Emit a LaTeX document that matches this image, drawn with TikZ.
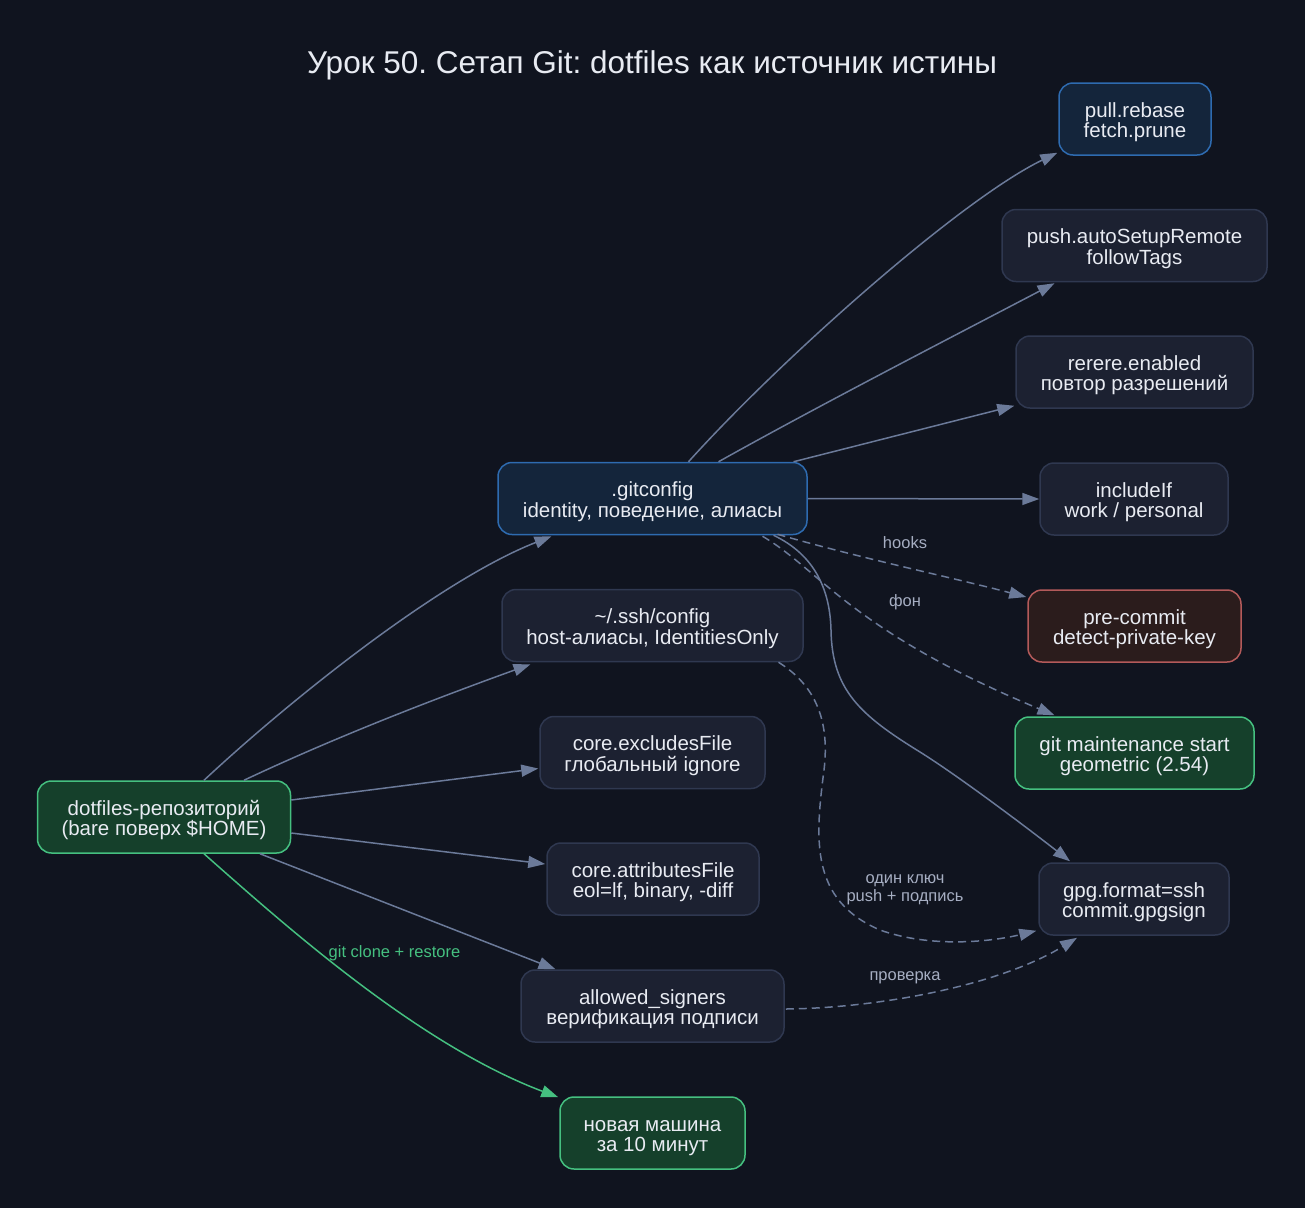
\documentclass[tikz,border=0pt]{standalone}
\usepackage{fontspec}
\setmainfont{Liberation Sans}
\usetikzlibrary{arrows.meta,calc}
\frenchspacing
\definecolor{bg}{HTML}{10141F}
\definecolor{nfill}{HTML}{1C2131}
\definecolor{nborder}{HTML}{2F3850}
\definecolor{bfill}{HTML}{14253B}
\definecolor{bborder}{HTML}{2E6BB0}
\definecolor{gfill}{HTML}{15402B}
\definecolor{gborder}{HTML}{45C080}
\definecolor{rfill}{HTML}{2B1C1C}
\definecolor{rborder}{HTML}{B45A5A}
\definecolor{edgec}{HTML}{6B7A99}
\definecolor{txt}{HTML}{E8EBF2}
\definecolor{lblc}{HTML}{A6AEC2}
\newcommand\mytopstrut{\rule{0pt}{22.7pt}}
\newcommand\mybotstrut{\rule[-6pt]{0pt}{6pt}}
\newcommand\twoline[2]{\mytopstrut#1\\#2\mybotstrut}
\tikzset{
  box/.style={draw=nborder, fill=nfill, line width=1.5pt, rounded corners=14pt,
    minimum height=72pt, align=center, text=txt, inner sep=0pt,
    font=\fontsize{20.5}{20.7}\selectfont},
  bluebox/.style={box, draw=bborder, fill=bfill},
  greenbox/.style={box, draw=gborder, fill=gfill},
  redbox/.style={box, draw=rborder, fill=rfill},
  edge/.style={draw=edgec, line width=1.5pt, -{Triangle[length=17pt,width=12pt]}},
  gedge/.style={edge, draw=gborder},
  dedge/.style={edge, dash pattern=on 8pt off 5pt},
  lbl/.style={text=lblc, font=\fontsize{16.5}{17.7}\selectfont, align=center, inner sep=0pt},
  glbl/.style={lbl, text=gborder}
}
\begin{document}
\begin{tikzpicture}[x=1pt,y=-1pt]
\fill[bg] (0,0) rectangle (1305,1208);
\useasboundingbox (0,0) rectangle (1305,1208);

\node[text=txt, font=\fontsize{31.5}{36}\selectfont, inner sep=0pt] (title) at (652,65) {Урок 50. Сетап Git: dotfiles как источник истины};

\node[greenbox, minimum width=253pt] (dot) at (164,817) {\twoline{dotfiles-репозиторий}{(bare поверх \$HOME)}};
\node[bluebox, minimum width=309pt] (git) at (652.5,498.5) {\twoline{.gitconfig}{identity, поведение, алиасы}};
\node[box, minimum width=301pt] (ssh) at (652.5,625.5) {\twoline{\textasciitilde/.ssh/config}{host-алиасы, IdentitiesOnly}};
\node[box, minimum width=225pt] (excl) at (652.5,752.5) {\twoline{core.excludesFile}{глобальный ignore}};
\node[box, minimum width=212pt] (attr) at (653,879) {\twoline{core.attributesFile}{eol=lf, binary, -diff}};
\node[box, minimum width=263pt] (allow) at (652.5,1006) {\twoline{allowed\_signers}{верификация подписи}};
\node[greenbox, minimum width=185pt] (new) at (652.5,1133) {\twoline{новая машина}{за 10 минут}};
\node[bluebox, minimum width=152pt] (pull) at (1135,119) {\twoline{pull.rebase}{fetch.prune}};
\node[box, minimum width=265pt] (push) at (1134.5,245.5) {\twoline{push.autoSetupRemote}{followTags}};
\node[box, minimum width=237pt] (rerere) at (1134.5,372) {\twoline{rerere.enabled}{повтор разрешений}};
\node[box, minimum width=188pt] (incl) at (1134,499) {\twoline{includeIf}{work / personal}};
\node[redbox, minimum width=213pt] (pre) at (1134.5,626) {\twoline{pre-commit}{detect-private-key}};
\node[greenbox, minimum width=239pt] (maint) at (1134.5,753) {\twoline{git maintenance start}{geometric (2.54)}};
\node[box, minimum width=190pt] (gpg) at (1134,899) {\twoline{gpg.format=ssh}{commit.gpgsign}};

% from dotfiles
\draw[edge] ($(dot.north)+(40,0)$) .. controls (290,700) and (440,580) .. ($(git.south)+(-101,1)$);
\draw[edge] ($(dot.north)+(80,0)$) .. controls (340,735) and (440,697) .. ($(ssh.south)+(-122,2)$);
\draw[edge] ($(dot.east)+(0,-17)$) -- ($(excl.west)+(-1,16)$);
\draw[edge] ($(dot.east)+(0,16)$) -- ($(attr.west)+(-1,-15)$);
\draw[edge] ($(dot.south)+(96,0)$) -- ($(allow.north)+(-97,0)$);
\draw[gedge] ($(dot.south)+(40,0)$) .. controls (290,930) and (420,1045) .. ($(new.north west)+(-1,1)$);
\node[glbl] (lclone) at (394.5,953) {git clone + restore};

% from gitconfig
\draw[edge] ($(git.north)+(36,0)$) .. controls (780,360) and (960,200) .. ($(pull.south west)+(-1,-3)$);
\draw[edge] ($(git.north)+(66,0)$) .. controls (820,405) and (950,338) .. ($(push.south)+(-80,1)$);
\draw[edge] ($(git.north)+(141,0)$) -- ($(rerere.south west)+(-1,-3)$);
\draw[edge] (git.east) -- (incl.west);
\draw[dedge] ($(git.south)+(125,-1)$) .. controls (860,558) and (950,577) .. ($(pre.west)+(-1,-29)$);
\node[lbl] (lhooks) at (905,543) {hooks};
\draw[dedge] ($(git.south)+(110,1)$) .. controls (820,570) and (850,630) .. ($(maint.north)+(-80,-1)$);
\node[lbl] (lfon) at (905,602) {фон};
\draw[edge] ($(git.south)+(121,0)$) .. controls (815,555) and (830,590) .. (831,630)
  .. controls (832,690) and (860,715) .. (920,752)
  .. controls (960,777) and (1030,830) .. ($(gpg.north)+(-64,-1)$);

% to gpg
\draw[dedge] ($(ssh.south)+(126,0)$) .. controls (815,685) and (830,720) .. (824,770)
  .. controls (815,840) and (810,900) .. (880,930)
  .. controls (930,948) and (990,942) .. ($(gpg.south west)+(-2,-5)$);
\node[lbl] (lkey) at (905,890) {один ключ\\push + подпись};
\draw[dedge] ($(allow.east)+(1,3)$) .. controls (880,1008) and (1000,985) .. ($(gpg.south)+(-57,2)$);
\node[lbl] (lcheck) at (905,978) {проверка};
\end{tikzpicture}
\end{document}
